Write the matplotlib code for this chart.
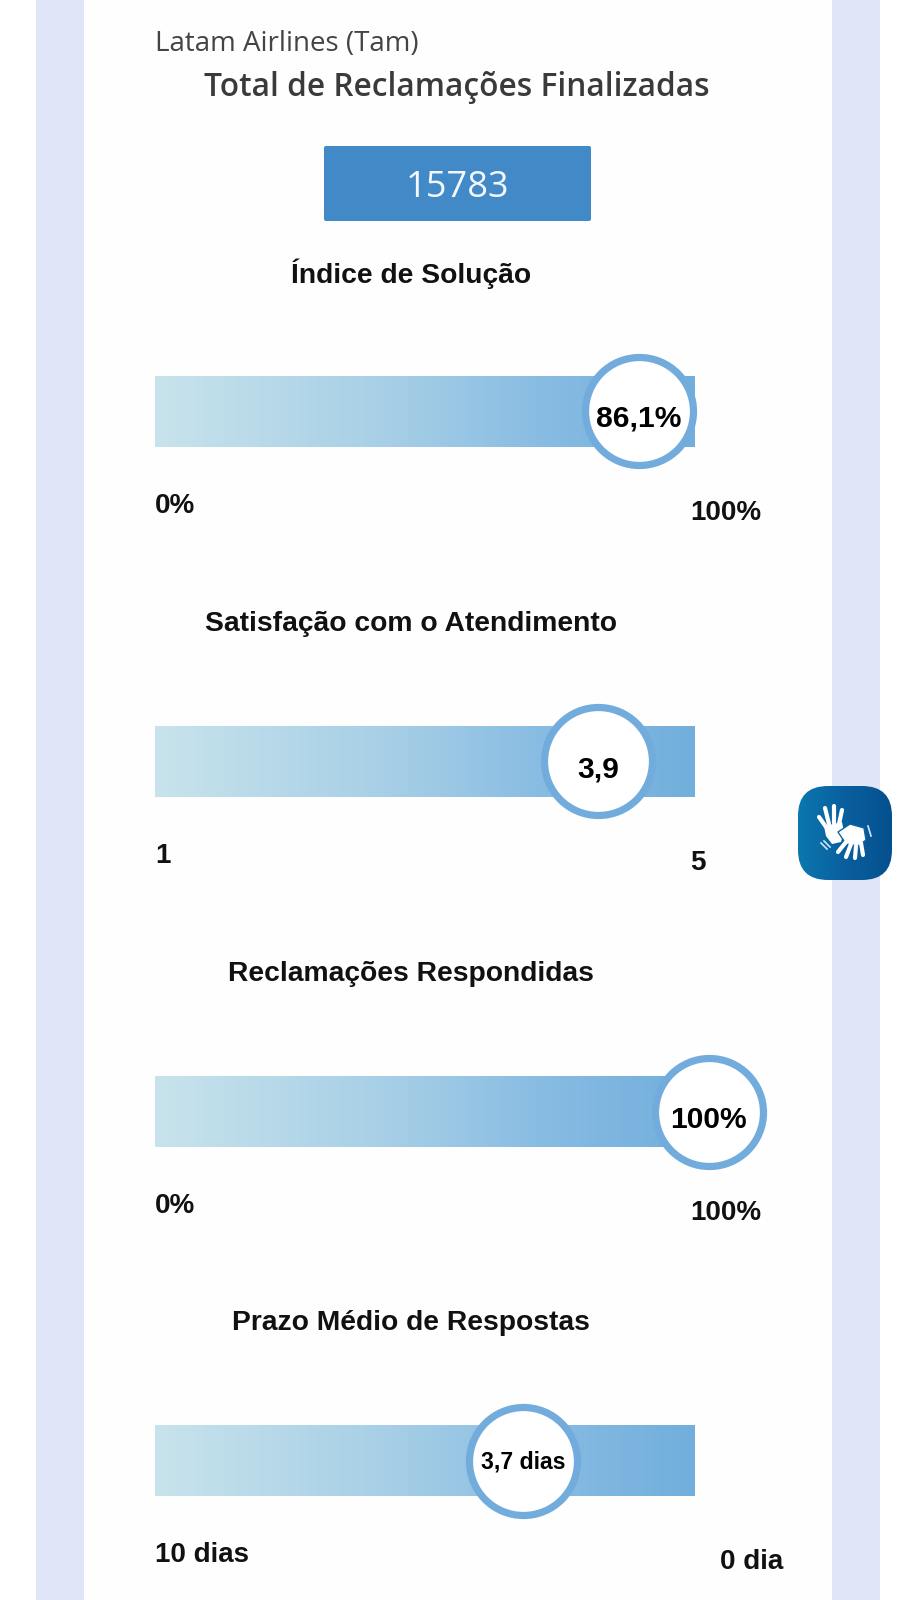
import numpy as np
import matplotlib
matplotlib.use('Agg')
import matplotlib.pyplot as plt
from matplotlib.colors import LinearSegmentedColormap
from matplotlib.patches import Rectangle, FancyBboxPatch, Polygon

W, H = 915, 1600
company = "Latam Airlines (Tam)"
total_title = "Total de Reclamações Finalizadas"
total_value = 15783
titles = ["Índice de Solução", "Satisfação com o Atendimento", "Reclamações Respondidas", "Prazo Médio de Respostas"]
values = [86.1, 3.9, 100, 3.7]
scale_min = [0, 0, 0, 10]
scale_max = [100, 5, 100, 0]
value_labels = ["86,1%", "3,9", "100%", "3,7 dias"]
low_labels = ["0%", "1", "0%", "10 dias"]
high_labels = ["100%", "5", "100%", "0 dia"]
label_sizes = [21.6, 21.6, 21.6, 16.6]
label_dy = [7, 8, 8, 1]

fig = plt.figure(figsize=(W/100, H/100), dpi=100, facecolor='white')
bg = fig.add_axes([0, 0, 1, 1])
bg.set_xlim(0, W); bg.set_ylim(H, 0); bg.axis('off')

bg.add_patch(Rectangle((36, 0), 48, H, fc='#dfe6f7', ec='none'))
bg.add_patch(Rectangle((832, 0), 48, H, fc='#dfe6f7', ec='none'))
bg.add_patch(Rectangle((84, 0), 748, H, fc='#fefefe', ec='none'))

bold = 'Liberation Sans'
bg.text(155, 44, company, fontsize=20, family='Open Sans', color='#444444', ha='left', va='center')
bg.text(457, 88, total_title, fontsize=22.8, family='Open Sans', weight='semibold', color='#3a3a3a', ha='center', va='center')
bg.add_patch(FancyBboxPatch((324, 146), 267, 75, boxstyle='round,pad=0,rounding_size=2', fc='#4189c7', ec='none'))
bg.text(457.5, 188, str(total_value), fontsize=26, family='Open Sans', color='#f4f8fc', ha='center', va='center')

cmap = LinearSegmentedColormap.from_list('bar', [(0, '#c8e3ec'), (0.45, '#a5cee6'), (0.75, '#85bae2'), (1, '#72afdc')])
grad = np.linspace(0, 1, 256).reshape(1, -1)
bar_l, bar_r = 155, 695
bar_tops = [376, 726, 1076, 1425]
bar_h = 71
for i in range(4):
    top = bar_tops[i]
    ax = fig.add_axes([bar_l/W, 1-(top+bar_h)/H, (bar_r-bar_l)/W, bar_h/H])
    lo, hi = scale_min[i], scale_max[i]
    span = hi - lo
    x0 = lo - 0.1057*span
    x1 = lo + 0.973*span
    ax.imshow(grad, extent=[x0, x1, 0, 1], aspect='auto', cmap=cmap, zorder=1)
    ax.set_xlim(x0, x1); ax.set_ylim(0, 1); ax.axis('off')
    ax.scatter([values[i]], [0.5], s=(108*0.72)**2, facecolor='white', edgecolor='#72acdc', linewidth=5.2, clip_on=False, zorder=3)
    ax.annotate(value_labels[i], (values[i], 0.5), xytext=(0, -label_dy[i]*0.72), textcoords='offset points',
                fontsize=label_sizes[i], family=bold, weight='bold', color='black', ha='center', va='center', annotation_clip=False, zorder=4)
    bg.text(411, top-102, titles[i], fontsize=20.3, family=bold, weight='bold', color='#111111', ha='center', va='center')
    bg.text(155, top+130, low_labels[i], fontsize=20, family=bold, weight='bold', color='#111111', ha='left', va='center')
    bg.text(690 if i < 3 else 720, top+137, high_labels[i], fontsize=20, family=bold, weight='bold', color='#111111', ha='left', va='center')

# accessibility button
ic = fig.add_axes([798/W, 1-880/H, 94/W, 94/H])
ic.set_xlim(0, 94); ic.set_ylim(94, 0); ic.axis('off')
icm = LinearSegmentedColormap.from_list('b', ['#0a77ae', '#0a5f9e', '#05508f'])
im = ic.imshow(np.linspace(0, 1, 128).reshape(1, -1), extent=[0, 94, 94, 0], aspect='auto', cmap=icm)
clip = FancyBboxPatch((0, 0), 94, 94, boxstyle='round,pad=0,rounding_size=30', fc='none', ec='none', transform=ic.transData)
ic.add_patch(clip)
im.set_clip_path(clip)
for (a, b, c, d) in [(28, 41, 21, 31), (31, 38, 27, 22), (36, 37, 36, 20), (41, 38, 44, 24)]:
    ic.plot([a, c], [b, d], color='white', lw=3, solid_capstyle='round')
ic.add_patch(Polygon([(26, 40), (44, 36), (46, 46), (43, 56), (34, 58), (28, 50)], fc='white', ec='none'))
ic.add_patch(Polygon([(40, 46), (52, 38), (66, 42), (68, 54), (60, 60), (48, 58)], fc='white', ec='#0a66a3', lw=1))
for (a, b, c, d) in [(48, 56, 40, 66), (53, 58, 48, 71), (58, 60, 57, 72), (63, 57, 65, 69)]:
    ic.plot([a, c], [b, d], color='white', lw=3, solid_capstyle='round')
ic.plot([26, 32], [55, 61], color='#cfe3f2', lw=1.2)
ic.plot([23, 29], [57, 63], color='#cfe3f2', lw=1.2)
ic.plot([70, 73], [40, 50], color='#cfe3f2', lw=1.2)

fig.savefig('out.png', dpi=100)
